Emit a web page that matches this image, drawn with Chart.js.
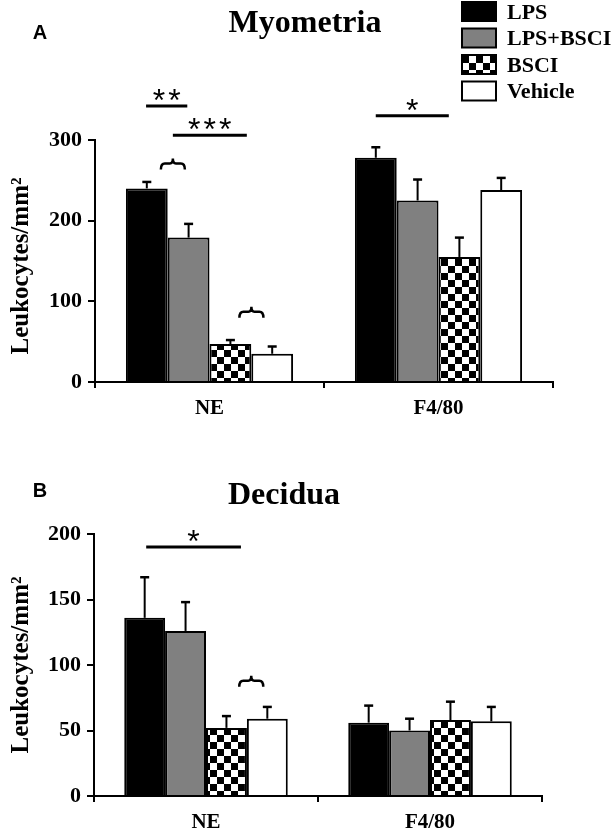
<!DOCTYPE html>
<html lang="en">
<head>
  <meta charset="UTF-8">
  <title>Myometria / Decidua leukocytes</title>
  <script src="https://cdn.jsdelivr.net/npm/chart.js"></script>
  <style>
    body { margin: 0; background: #fff; }
    .panel { position: relative; width: 614px; }
    canvas { display: block; }
  </style>
</head>
<body>
  <div class="panel"><canvas id="myoChart" width="614" height="420"></canvas></div>
  <div class="panel"><canvas id="decChart" width="614" height="416"></canvas></div>

  <script>
    const categories = ['NE', 'F4/80'];
    const groups = ['LPS', 'LPS+BSCI', 'BSCI', 'Vehicle'];

    // Panel A - Myometria (mean and SEM)
    const myoLps = [240, 278];
    const myoLpsBsci = [179, 225];
    const myoBsci = [47, 155];
    const myoVehicle = [35, 238];
    const myoLpsErr = [8, 13];
    const myoLpsBsciErr = [17, 26];
    const myoBsciErr = [5, 24];
    const myoVehicleErr = [9, 15];
    const myoTicks = [0, 100, 200, 300];
    // significance bars: category, span (fraction of category width from its centre), y value, stars
    const myoBrackets = [
      { cat: 0, from: -0.277, to: -0.097, y: 342, stars: 2 },
      { cat: 0, from: -0.16, to: 0.163, y: 306, stars: 3 },
      { cat: 1, from: -0.274, to: 0.045, y: 330, stars: 1 }
    ];
    const myoBraces = [
      { cat: 0, at: -0.16, y: 271 },
      { cat: 0, at: 0.183, y: 87 }
    ];

    // Panel B - Decidua
    const decLps = [136, 56];
    const decLpsBsci = [126, 50];
    const decBsci = [52, 58];
    const decVehicle = [59, 57];
    const decLpsErr = [31, 13];
    const decLpsBsciErr = [22, 9];
    const decBsciErr = [9, 14];
    const decVehicleErr = [9, 11];
    const decTicks = [0, 50, 100, 150, 200];
    const decBrackets = [
      { cat: 0, from: -0.267, to: 0.156, y: 190, stars: 1 }
    ];
    const decBraces = [
      { cat: 0, at: 0.202, y: 88 }
    ];

    const SERIF = '"Liberation Serif", "Times New Roman", serif';
    const SANS = '"Liberation Sans", Arial, sans-serif';

    // checkerboard tile for the BSCI bars
    function checkerPattern(ctx, size) {
      const tile = document.createElement('canvas');
      tile.width = tile.height = size * 2;
      const g = tile.getContext('2d');
      g.fillStyle = '#fff';
      g.fillRect(0, 0, size * 2, size * 2);
      g.fillStyle = '#000';
      g.fillRect(0, 0, size, size);
      g.fillRect(size, size, size, size);
      return ctx.createPattern(tile, 'repeat');
    }

    function drawStars(ctx, cx, cy, n) {
      ctx.save();
      ctx.font = '32px ' + SANS;
      ctx.fillStyle = '#000';
      ctx.textAlign = 'center';
      ctx.textBaseline = 'alphabetic';
      const m = ctx.measureText('*');
      const base = cy - (m.actualBoundingBoxDescent - m.actualBoundingBoxAscent) / 2;
      for (let k = 0; k < n; k++) {
        ctx.fillText('*', cx + (k - (n - 1) / 2) * 15.5, base);
      }
      ctx.restore();
    }

    function drawBrace(ctx, cx, y, w) {
      const x0 = cx - w / 2, x1 = cx + w / 2;
      ctx.beginPath();
      ctx.moveTo(x0, y + 6);
      ctx.quadraticCurveTo(x0, y, x0 + 4, y);
      ctx.lineTo(cx - 3, y);
      ctx.quadraticCurveTo(cx, y, cx, y - 5);
      ctx.quadraticCurveTo(cx, y, cx + 3, y);
      ctx.lineTo(x1 - 4, y);
      ctx.quadraticCurveTo(x1, y, x1, y + 6);
      ctx.stroke();
    }

    function makePanel(canvasId, opts) {
      const canvas = document.getElementById(canvasId);
      const ctx = canvas.getContext('2d');
      const fills = ['#000000', '#808080', checkerPattern(ctx, 7), '#ffffff'];

      const datasets = opts.series.map((values, i) => ({
        label: groups[i],
        data: values,
        backgroundColor: fills[i],
        borderColor: '#000',
        borderWidth: 2,
        borderSkipped: 'bottom',
        categoryPercentage: 0.73,
        barPercentage: 1.0
      }));

      const extras = {
        id: 'extras',
        afterDatasetsDraw(chart) {
          const c = chart.ctx;
          const yScale = chart.scales.y;
          c.save();
          c.strokeStyle = '#000';
          c.lineWidth = 2;
          chart.data.datasets.forEach((ds, i) => {
            const meta = chart.getDatasetMeta(i);
            meta.data.forEach((bar, j) => {
              const top = yScale.getPixelForValue(ds.data[j] + opts.errors[i][j]);
              c.beginPath();
              c.moveTo(bar.x, bar.y);
              c.lineTo(bar.x, top);
              c.stroke();
              c.lineWidth = 2.5;
              c.beginPath();
              c.moveTo(bar.x - 4.5, top);
              c.lineTo(bar.x + 4.5, top);
              c.stroke();
              c.lineWidth = 2;
            });
          });
          c.restore();
        },
        afterDraw(chart) {
          const c = chart.ctx;
          const xs = chart.scales.x, ys = chart.scales.y;
          const catW = xs.getPixelForValue(1) - xs.getPixelForValue(0);
          const px = (cat, off) => xs.getPixelForValue(cat) + off * catW;
          c.save();

          // panel letter and title
          c.fillStyle = '#000';
          c.textAlign = 'center';
          c.textBaseline = 'alphabetic';
          c.font = 'bold 20px ' + SANS;
          c.fillText(opts.letter, 40, opts.letterY);
          c.font = 'bold 32px ' + SERIF;
          c.fillText(opts.title, opts.titleX, opts.titleY);

          // y axis title
          c.save();
          c.translate(22, opts.axisTitleY);
          c.rotate(-Math.PI / 2);
          c.font = 'bold 25px ' + SERIF;
          c.textBaseline = 'middle';
          c.fillText('Leukocytes/mm\u00B2', 0, 0);
          c.restore();

          // significance bars
          c.strokeStyle = '#000';
          c.lineWidth = 3;
          opts.brackets.forEach(b => {
            const x0 = px(b.cat, b.from), x1 = px(b.cat, b.to);
            const y = ys.getPixelForValue(b.y);
            c.beginPath();
            c.moveTo(x0, y);
            c.lineTo(x1, y);
            c.stroke();
            drawStars(c, (x0 + x1) / 2, y - 11, b.stars);
          });
          c.lineWidth = 2.5;
          opts.braces.forEach(b => {
            drawBrace(c, px(b.cat, b.at), ys.getPixelForValue(b.y), 24);
          });

          // legend
          if (opts.legend) {
            const tops = [2, 28.5, 55, 81.5];
            chart.data.datasets.forEach((ds, i) => {
              c.fillStyle = ds.backgroundColor;
              c.fillRect(462, tops[i], 34, 19);
              c.lineWidth = 2;
              c.strokeRect(462, tops[i], 34, 19);
              c.fillStyle = '#000';
              c.textAlign = 'left';
              c.textBaseline = 'middle';
              c.font = 'bold 22px ' + SERIF;
              c.fillText(ds.label, 507, tops[i] + 11);
            });
          }
          c.restore();
        }
      };

      return new Chart(canvas, {
        type: 'bar',
        data: { labels: categories, datasets },
        options: {
          responsive: false,
          animation: false,
          layout: { padding: opts.padding },
          plugins: { legend: { display: false }, tooltip: { enabled: false } },
          scales: {
            x: {
              offset: true,
              border: { color: '#000', width: 2 },
              grid: { offset: true, drawOnChartArea: false, color: '#000', lineWidth: 2, tickLength: 6 },
              ticks: { color: '#000', padding: 8, font: { family: SERIF, size: 21, weight: 'bold' } },
              afterFit: s => { s.height = opts.xHeight; }
            },
            y: {
              min: 0,
              max: opts.ticks[opts.ticks.length - 1],
              border: { color: '#000', width: 2 },
              grid: { drawOnChartArea: false, color: '#000', lineWidth: 2, tickLength: 7 },
              ticks: { color: '#000', padding: 6, font: { family: SERIF, size: 22, weight: 'bold' } },
              afterBuildTicks: s => { s.ticks = opts.ticks.map(v => ({ value: v })); },
              afterFit: s => { s.width = opts.yWidth; }
            }
          }
        },
        plugins: [extras]
      });
    }

    makePanel('myoChart', {
      title: 'Myometria', titleX: 305, titleY: 32,
      letter: 'A', letterY: 39, axisTitleY: 266,
      series: [myoLps, myoLpsBsci, myoBsci, myoVehicle],
      errors: [myoLpsErr, myoLpsBsciErr, myoBsciErr, myoVehicleErr],
      ticks: myoTicks, brackets: myoBrackets, braces: myoBraces,
      padding: { top: 140, right: 61, bottom: 0, left: 0 },
      yWidth: 95, xHeight: 38, legend: true
    });

    makePanel('decChart', {
      title: 'Decidua', titleX: 284, titleY: 84,
      letter: 'B', letterY: 77, axisTitleY: 245,
      series: [decLps, decLpsBsci, decBsci, decVehicle],
      errors: [decLpsErr, decLpsBsciErr, decBsciErr, decVehicleErr],
      ticks: decTicks, brackets: decBrackets, braces: decBraces,
      padding: { top: 114, right: 72, bottom: 0, left: 0 },
      yWidth: 94, xHeight: 40, legend: false
    });
  </script>
</body>
</html>
